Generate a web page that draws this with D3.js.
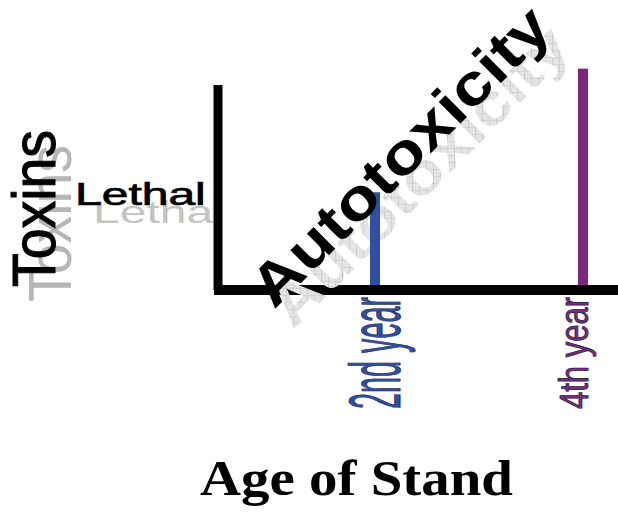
<!DOCTYPE html>
<html>
<head>
<meta charset="utf-8">
<script src="https://cdn.jsdelivr.net/npm/d3@7"></script>
<style>
  body { margin: 0; background: #fff; }
  svg { display: block; }
</style>
</head>
<body>
<script>
// chart values
var years = [2, 4];
var year_labels = ["2nd year", "4th year"];
var toxin_levels = [1.02, 2.38];
var bar_colors = ["#2f4fa2", "#7b2a7b"];
var lethal_level = 1.0;
var axis_top_level = 2.2;

var width = 618,
    height = 513;

function main(){
  var svg = d3.select("body").append("svg")
    .attr("width", width)
    .attr("height", height);

  var defs = svg.append("defs");
  var pat = defs.append("pattern")
    .attr("id", "hatch")
    .attr("patternUnits", "userSpaceOnUse")
    .attr("width", 7).attr("height", 7)
    .attr("patternTransform", "rotate(45)");
  pat.append("rect").attr("width", 7).attr("height", 7).attr("fill", "#e4e4e4");
  pat.append("path").attr("d", "M0,0H7M0,0V7").attr("stroke", "#c4c4c4").attr("stroke-width", 1.2);

  var x = d3.scaleLinear().domain([2, 4]).range([375, 583]);
  var y = d3.scaleLinear().domain([0, axis_top_level]).range([285, 85]);

  var sans = "Liberation Sans, Arial, sans-serif";

  // y title: narrower font, stretched across so strokes stay heavy
  function toxins(tx, ty, fill, stroke){
    svg.append("text")
      .attr("transform", "translate(" + tx + "," + ty + ") rotate(-90) scale(1,1.14)")
      .attr("font-family", sans)
      .attr("font-size", 53)
      .attr("textLength", 157).attr("lengthAdjust", "spacingAndGlyphs")
      .attr("fill", fill)
      .attr("stroke", stroke).attr("stroke-width", stroke == "none" ? 0 : 0.9)
      .text("Toxins");
  }
  function lethal(tx, ty, fill, stroke){
    svg.append("text")
      .attr("transform", "translate(" + tx + "," + ty + ") scale(1.5,1)")
      .attr("font-family", sans)
      .attr("font-size", 32)
      .attr("fill", fill)
      .attr("stroke", stroke).attr("stroke-width", stroke == "none" ? 0 : 0.7)
      .text("Lethal");
  }
  function autotox(tx, ty, fill){
    svg.append("text")
      .attr("transform", "translate(" + tx + "," + ty + ") rotate(-45)")
      .attr("font-family", sans)
      .attr("font-weight", "bold")
      .attr("font-size", 58)
      .attr("textLength", 396).attr("lengthAdjust", "spacingAndGlyphs")
      .attr("fill", fill)
      .text("Autotoxicity");
  }

  // shadows first (grey copies offset down-right)
  toxins(71, 302, "#b6b6b6", "none");
  lethal(93, y(lethal_level) + 29, "#c4c4c4", "none");

  // axes
  svg.append("line")
    .attr("x1", 218).attr("x2", 218)
    .attr("y1", y(axis_top_level)).attr("y2", y(0) + 5)
    .attr("stroke", "#000").attr("stroke-width", 9);
  svg.append("line")
    .attr("x1", 214).attr("x2", width)
    .attr("y1", y(0) + 5).attr("y2", y(0) + 5)
    .attr("stroke", "#000").attr("stroke-width", 10);

  // Autotoxicity shadow sits over the axis
  autotox(293, 330, "url(#hatch)");

  // bars
  svg.selectAll("rect.bar")
    .data(years)
    .enter()
    .append("rect")
    .attr("class", "bar")
    .attr("x", function(d) { return x(d) - 5; })
    .attr("width", 10)
    .attr("y", function(d, i) { return y(toxin_levels[i]); })
    .attr("height", function(d, i) { return y(0) - y(toxin_levels[i]); })
    .attr("fill", function(d, i) { return bar_colors[i]; });

  // tick labels, rotated and squeezed
  var tick_size = [72, 40],
      tick_shift = [25, 5];
  svg.selectAll("text.tick")
    .data(years)
    .enter()
    .append("text")
    .attr("class", "tick")
    .attr("transform", function(d, i) {
      return "translate(" + (x(d) + tick_shift[i]) + ",409) rotate(-90)";
    })
    .attr("font-family", sans)
    .attr("font-size", function(d, i) { return tick_size[i]; })
    .attr("textLength", 112).attr("lengthAdjust", "spacingAndGlyphs")
    .attr("fill", function(d, i) { return bar_colors[i]; })
    .attr("stroke", "#1c1c3a").attr("stroke-width", 0.8)
    .text(function(d, i) { return year_labels[i]; });

  // black texts
  toxins(55, 287, "#000", "#000");
  lethal(75, y(lethal_level) + 11, "#000", "#000");
  autotox(274, 310, "#000");

  svg.append("text")
    .attr("x", 200).attr("y", 495)
    .attr("font-family", "Liberation Serif, Times New Roman, serif")
    .attr("font-weight", "bold")
    .attr("font-size", 50)
    .attr("textLength", 313).attr("lengthAdjust", "spacingAndGlyphs")
    .attr("fill", "#000")
    .text("Age of Stand");
}

main();
</script>
</body>
</html>
